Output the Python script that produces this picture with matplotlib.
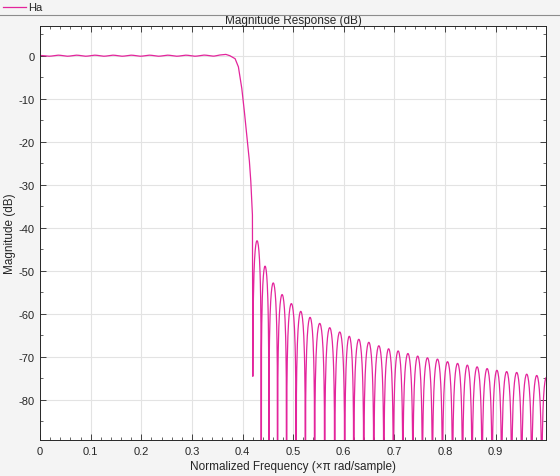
import numpy as np
import matplotlib
matplotlib.use("Agg")
import matplotlib.pyplot as plt
from matplotlib.ticker import MultipleLocator

# =====================================
# Data
# =====================================

# passband ripple extrema (normalized freq, dB)
pass_f = [0.0, 0.018, 0.036, 0.054, 0.072, 0.090, 0.108, 0.126, 0.144,
          0.162, 0.180, 0.198, 0.216, 0.234, 0.252, 0.270, 0.288, 0.306,
          0.324, 0.342, 0.358, 0.368]
pass_db = [0.05, -0.12, 0.12, -0.12, 0.12, -0.12, 0.12, -0.12, 0.12,
           -0.12, 0.12, -0.12, 0.12, -0.12, 0.12, -0.12, 0.12, -0.12,
           0.14, -0.10, 0.18, 0.30]

# transition band points
trans_f = [0.375, 0.3854, 0.3919, 0.3986, 0.4037, 0.4097, 0.4136,
           0.4164, 0.4196, 0.4204]
trans_db = [0.0, -0.7, -2.6, -7.6, -13.0, -19.9, -24.5,
            -29.2, -37.0, -74.5]

# stopband nulls and lobe peaks
null_f = [0.4204, 0.4370, 0.4521, 0.4693, 0.4871, 0.5059, 0.5242, 0.5426,
          0.5624, 0.5822, 0.6020, 0.6198, 0.6396, 0.6594, 0.6792, 0.6980,
          0.7168, 0.7366, 0.7554, 0.7752, 0.7950, 0.8149, 0.8347, 0.8535,
          0.8733, 0.8931, 0.9119, 0.9317, 0.9515, 0.9713, 0.9911, 1.0089]
peak_db = [-43.0, -48.9, -52.8, -55.5, -57.6, -59.4, -60.8, -62.2, -63.2,
           -64.2, -65.2, -65.9, -66.6, -67.4, -68.1, -68.6, -69.2, -69.8,
           -70.2, -70.5, -71.1, -71.5, -71.9, -72.3, -72.7, -73.1, -73.4,
           -73.6, -74.0, -74.3, -74.8]

x_labels = ["0", "0.1", "0.2", "0.3", "0.4", "0.5", "0.6", "0.7", "0.8", "0.9"]

# =====================================
# Build curve
# =====================================

freq = []
mag = []

# passband: smooth cosine shape between ripple extrema
for i in range(len(pass_f) - 1):
    t = np.linspace(0, 1, 12, endpoint=False)
    s = (1 - np.cos(np.pi * t)) / 2
    freq.extend(pass_f[i] + (pass_f[i + 1] - pass_f[i]) * t)
    mag.extend(pass_db[i] + (pass_db[i + 1] - pass_db[i]) * s)

freq.extend(trans_f)
mag.extend(trans_db)

# stopband lobes
for i in range(len(peak_db)):
    a, b = null_f[i], null_f[i + 1]
    t = np.linspace(0, 1, 30)[1:-1]
    amp = 10 ** (peak_db[i] / 20) * np.sin(np.pi * t)
    freq.extend(a + (b - a) * t)
    mag.extend(20 * np.log10(amp))
    freq.append(b)
    mag.append(-140.0)

freq = np.array(freq)
mag = np.array(mag)

# =====================================
# Plot
# =====================================

plt.rcParams["font.family"] = ["Liberation Sans", "DejaVu Sans"]
plt.rcParams["axes.unicode_minus"] = False

fig = plt.figure(figsize=(5.6, 4.77), dpi=100, facecolor="#f4f4f4")
ax = fig.add_axes([40 / 560, 36 / 477, 506 / 560, 414 / 477])
ax.set_facecolor("white")

line_color = "#e3259c"
ax.plot(freq, mag, color=line_color, lw=0.9)

ax.set_xlim(0, 0.9995)
ax.set_ylim(-89.3, 6.9)

ax.xaxis.set_minor_locator(MultipleLocator(0.02))
ax.yaxis.set_major_locator(MultipleLocator(10))
ax.yaxis.set_minor_locator(MultipleLocator(5))
ax.set_xticks(np.arange(len(x_labels)) / 10)
ax.set_xticklabels(x_labels)

ax.tick_params(which="both", direction="in", top=True, right=True,
               color="#262626", labelsize=8, labelcolor="#262626")
ax.tick_params(which="major", length=4, width=0.6, pad=4)
ax.tick_params(which="minor", length=2.5, width=0.5)
ax.grid(True, which="major", color="#e3e3e3", lw=0.8)
ax.set_axisbelow(True)

for sp in ax.spines.values():
    sp.set_color("#262626")
    sp.set_linewidth(0.7)

ax.set_title("Magnitude Response (dB)", fontsize=8.5, color="#262626", pad=2)
ax.set_xlabel("Normalized Frequency (\u00d7\u03c0 rad/sample)", fontsize=8.5,
              color="#262626", labelpad=3)
ax.set_ylabel("Magnitude (dB)", fontsize=8.5, color="#262626", labelpad=2)

# legend strip at the top
fig.add_artist(plt.Line2D([3 / 560, 26 / 560], [1 - 8 / 477, 1 - 8 / 477],
                          color=line_color, lw=0.9))
fig.text(28 / 560, 1 - 8 / 477, "Ha", fontsize=8, va="center", color="#262626")
fig.add_artist(plt.Line2D([0, 1], [1 - 16 / 477, 1 - 16 / 477],
                          color="#8c8c8c", lw=0.8))

fig.savefig("out.png", dpi=100, facecolor=fig.get_facecolor())
